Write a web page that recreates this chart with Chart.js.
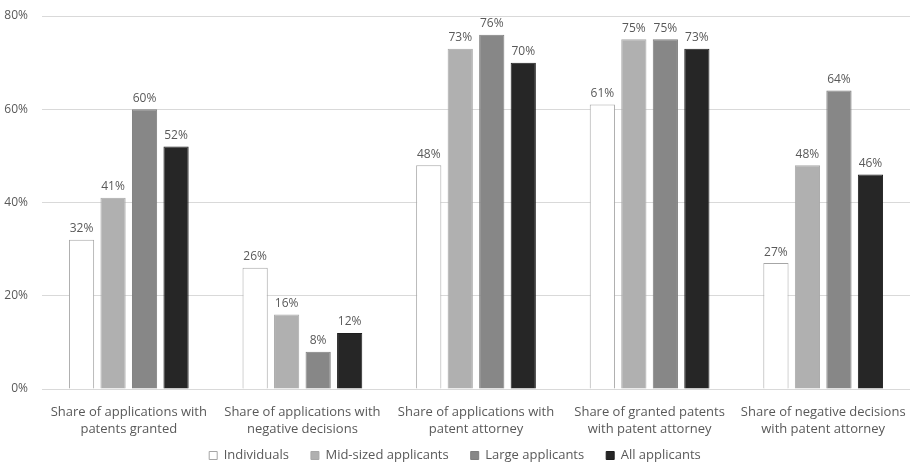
<!DOCTYPE html>
<html>
<head>
<meta charset="utf-8">
<script src="https://cdn.jsdelivr.net/npm/chart.js@4/dist/chart.umd.min.js"></script>
<style>
  html, body { margin: 0; padding: 0; background: #ffffff; }
  #wrap { width: 913px; height: 463px; }
</style>
</head>
<body>
<div id="wrap"><canvas id="chart" width="913" height="463"></canvas></div>
<script>
// Categories (two-line axis labels)
const categories = [
  ['Share of applications with', 'patents granted'],
  ['Share of applications with', 'negative decisions'],
  ['Share of applications with', 'patent attorney'],
  ['Share of granted patents', 'with patent attorney'],
  ['Share of negative decisions', 'with patent attorney']
];

// Series values, in percent
const individuals = [32, 26, 48, 61, 27];
const midSized    = [41, 16, 73, 75, 48];
const large       = [60, 8, 76, 75, 64];
const allApplicants = [52, 12, 70, 73, 46];

const seriesNames = ['Individuals', 'Mid-sized applicants', 'Large applicants', 'All applicants'];

// Value axis ticks
const yTicks = [0, 20, 40, 60, 80];

const FONT = '"Open Sans", "Liberation Sans", sans-serif';
const TEXT = '#595959';

// Writes each bar's value above it
const valueLabels = {
  id: 'valueLabels',
  afterDatasetsDraw(chart) {
    const ctx = chart.ctx;
    ctx.save();
    ctx.font = '12px ' + FONT;
    ctx.fillStyle = TEXT;
    ctx.textAlign = 'center';
    ctx.textBaseline = 'bottom';
    chart.data.datasets.forEach((ds, i) => {
      const meta = chart.getDatasetMeta(i);
      meta.data.forEach((bar, j) => {
        ctx.fillText(ds.data[j] + '%', bar.x, bar.y - 5);
      });
    });
    ctx.restore();
  }
};

new Chart(document.getElementById('chart'), {
  type: 'bar',
  data: {
    labels: categories,
    datasets: [
      { label: seriesNames[0], data: individuals, backgroundColor: '#ffffff', borderColor: '#a6a6a6', borderWidth: 1 },
      { label: seriesNames[1], data: midSized, backgroundColor: '#b0b0b0', borderColor: '#a8a8a8', borderWidth: 1 },
      { label: seriesNames[2], data: large, backgroundColor: '#878787', borderColor: '#7e7e7e', borderWidth: 1 },
      { label: seriesNames[3], data: allApplicants, backgroundColor: '#262626', borderColor: '#1e1e1e', borderWidth: 1 }
    ]
  },
  options: {
    responsive: false,
    animation: false,
    layout: { padding: { top: 16, right: 3, left: 0, bottom: -9 } },
    datasets: {
      bar: { categoryPercentage: 0.726, barPercentage: 0.8 }
    },
    scales: {
      x: {
        grid: { display: false, drawTicks: false },
        border: { display: false },
        afterFit(axis) {
          axis.height = 38;
          axis.paddingLeft = 0;
          axis.paddingRight = 0;
          // let the two-line category labels run past the axis box
          axis._computeLabelArea = () => undefined;
        },
        ticks: {
          color: TEXT,
          font: { family: FONT, size: 13, lineHeight: 1.32 },
          padding: 15,
          maxRotation: 0,
          autoSkip: false
        }
      },
      y: {
        min: 0,
        max: 80,
        afterBuildTicks(axis) { axis.ticks = yTicks.map(v => ({ value: v })); },
        afterFit(axis) {
          axis.width = 42;
          axis.paddingTop = 0;
          axis.paddingBottom = 0;
        },
        grid: { color: '#d9d9d9', drawTicks: false, lineWidth: 1 },
        border: { display: false },
        ticks: {
          color: TEXT,
          font: { family: FONT, size: 12 },
          padding: 14,
          callback: v => v + '%'
        }
      }
    },
    plugins: {
      legend: {
        position: 'bottom',
        labels: {
          color: TEXT,
          font: { family: FONT, size: 13 },
          boxWidth: 8,
          boxHeight: 8,
          padding: 22
        }
      },
      tooltip: { enabled: false }
    }
  },
  plugins: [valueLabels]
});
</script>
</body>
</html>
